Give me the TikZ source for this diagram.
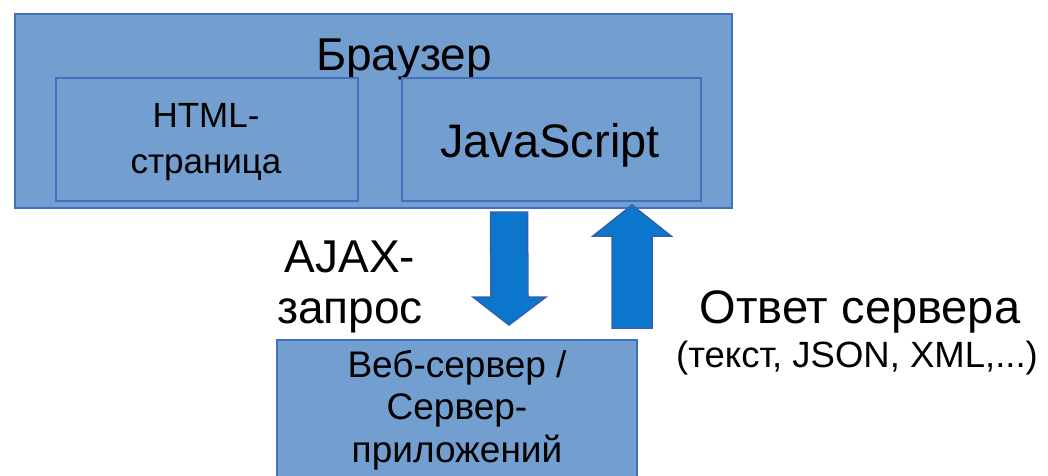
\documentclass[tikz,border=0pt]{standalone}
\usepackage{fontspec}
\setmainfont{Liberation Sans}
\usetikzlibrary{calc}
\newcommand{\fs}[2]{\fontsize{#1pt}{#2pt}\selectfont}
\definecolor{boxfill}{HTML}{729FCF}
\definecolor{boxline}{HTML}{4170BE}
\definecolor{arrowfill}{HTML}{0B76CC}
\definecolor{arrowline}{HTML}{2F62B0}
\tikzset{
  panel/.style={draw=boxline, fill=boxfill, line width=2.4pt, anchor=north west, inner sep=0pt},
  subpanel/.style={draw=boxline, fill=boxfill, line width=2pt, anchor=north west, inner sep=0pt},
  caption/.style={inner sep=0pt, align=center, text=black},
  blockarrow/.style={fill=arrowfill, draw=arrowline, line width=1.5pt, line join=miter}
}
\begin{document}
\begin{tikzpicture}[x=1pt, y=-1pt]
  \clip (0,0) rectangle (1048,475);
  \fill[white] (0,0) rectangle (1048,475);

  % browser frame with its two parts
  \node[panel, minimum width=717pt, minimum height=194pt] (browser) at (14,13) {};
  \node[caption, anchor=base, font=\fs{46}{52}] (browsertitle) at (404,70) {Браузер};
  \node[subpanel, minimum width=302pt, minimum height=123pt] (html) at (55,77) {};
  \node[subpanel, minimum width=299pt, minimum height=123pt] (js) at (401,77) {};
  % multi-line captions are placed by the baseline of their last line
  \node[caption, anchor=base, font=\fs{35}{46}] (htmltext) at (206,173) {HTML-\\страница};
  \node[caption, anchor=base, font=\fs{47}{52}] (jstext) at (550,157) {JavaScript};

  % server box, running past the lower edge
  \node[panel, minimum width=360pt, minimum height=160pt] (server) at (276,339) {};
  \node[caption, anchor=base, font=\fs{37}{42.5}] (servertext) at (457,462) {Веб-сервер /\\Сервер-\\приложений};

  % request and response arrows
  \coordinate (reqtop) at (509,212);
  \coordinate (reqtip) at (509,325);
  \draw[blockarrow] ($(reqtop)+(-18.5,0)$) -- ($(reqtop)+(18.5,0)$) -- (528,297) -- (546,297)
    -- (reqtip) -- (473,297) -- (491,297) -- cycle;
  \coordinate (resptip) at (632,205);
  \coordinate (respbase) at (632,328);
  \draw[blockarrow] (resptip) -- (671,236) -- (652,236) -- ($(respbase)+(20,0)$)
    -- ($(respbase)+(-20,0)$) -- (612,236) -- (593,236) -- cycle;

  % labels of the arrows
  \node[caption, anchor=base, font=\fs{46}{51}] (reqlabel) at (350,323) {AJAX-\\запрос};
  \node[caption, anchor=base, font=\fs{47}{52}] (resplabel) at (860,323) {Ответ сервера};
  \node[caption, anchor=base, font=\fs{36.5}{40}] (respnote) at (857,367) {(текст, JSON, XML,...)};
\end{tikzpicture}
\end{document}
